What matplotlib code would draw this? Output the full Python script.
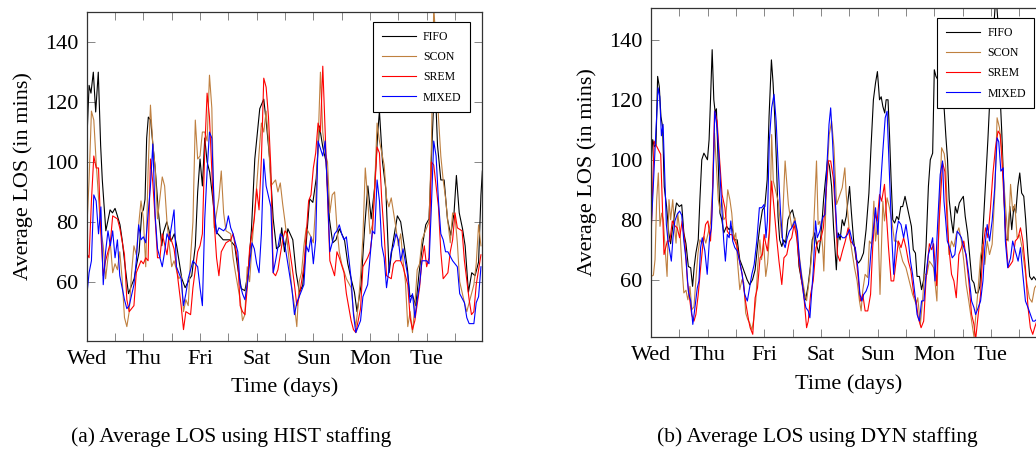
import matplotlib
matplotlib.use("Agg")
import matplotlib.pyplot as plt

plt.rcParams['font.family'] = ['Liberation Serif', 'DejaVu Serif']

# ---------------- (a) HIST staffing ----------------
fifo_a_h = [0, 1.0, 1.8, 2.8, 3.8, 4.9, 5.9, 6.6, 8.1, 9.9,
            10.9, 12, 13, 14.1, 15.1, 16, 16.9, 17.7, 19.1, 20.1,
            21.2, 22.2, 23.3, 24, 24.7, 25.4, 26.1, 27.1, 28, 29,
            30.4, 31.8, 32.5, 33.9, 34.9, 35.7, 37.1, 38.1, 40.3, 41.7,
            43.6, 44.5, 46, 47, 48, 49, 50, 51, 52.1, 53.5,
            54.9, 57.8, 60.6, 62.7, 64.1, 65.5, 67, 68.4, 69.8, 71.2,
            73.3, 75, 76.1, 77.5, 79, 80.4, 81.8, 82.6, 83.8, 85.2,
            87.3, 88.7, 90.1, 91.5, 92.9, 94.4, 95.8, 97.2, 98.6, 100,
            101.4, 102.8, 104.2, 105.6, 107, 109.2, 110.6, 112, 113.4, 114.5,
            116.2, 117.7, 119.1, 120.5, 121.9, 123.3, 124, 125.3, 126.7, 128.1,
            129.5, 131.6, 133, 134.5, 135.9, 136.9, 138, 139.4, 140.8, 142.2,
            143.6, 145, 146.2, 147.2, 147.9, 148.6, 150, 151.4, 152.8, 154.2,
            155.6, 156.6, 157.8, 159.2, 160.3, 161.7, 163.1, 164.5, 166, 167,
            167.6]
fifo_a_v = [106, 125.6, 123, 130, 116.7, 130, 105.5, 94, 77, 84,
            83, 84.5, 82, 79, 73.5, 67, 61, 56, 59, 61,
            66, 70, 83, 84, 87.5, 108, 115, 114, 106, 98,
            83, 72, 76.5, 80, 77, 73.5, 76, 72, 61, 58,
            61, 62, 72, 90, 101, 92, 108, 100, 96.6, 87,
            76.6, 74, 74, 72, 64, 57.7, 57, 63, 77.7, 101,
            117.8, 121, 113, 101, 81, 71, 72, 78, 70, 77.7,
            74, 63, 56.5, 58.7, 72, 87.7, 86.5, 94.4, 112, 105,
            100, 81, 73, 74, 77.7, 74, 66, 61, 56.5, 50,
            58.8, 77.7, 92, 81, 91, 110, 117, 100, 91, 63,
            72, 82, 80, 72, 64, 55, 55.5, 52, 63, 72,
            79, 81, 105, 124, 120, 105.6, 94, 94, 81, 75.5,
            83, 95.5, 83, 77.7, 72, 56.5, 63, 62, 66.6, 89,
            97]

scon_a_h = [0, 1, 2, 3, 4, 5, 6, 7, 8, 9,
            10, 11, 12, 13, 14, 15, 16, 17, 18, 19,
            20, 21, 22, 23, 24, 25, 26, 27, 28, 29,
            30, 31, 32, 33, 34, 35, 36, 37, 39, 40,
            41, 42, 43, 44, 45, 46, 47, 48, 49, 50,
            51, 52, 53, 54, 55, 56, 57, 58, 59, 61,
            62, 63, 65, 66, 67, 68, 69, 70, 72, 73,
            74, 75, 76, 77, 78, 80, 81, 82, 83, 84,
            85, 87, 88, 89, 90, 91, 92, 93, 95, 96,
            97, 98, 99, 100, 101, 102, 103, 104, 105, 106,
            107, 108, 110, 112, 113, 114, 115, 116, 117, 118,
            119, 120, 121, 122, 123, 124, 126, 127, 128, 129,
            130, 131, 132, 133, 134, 135, 136, 137, 138, 139,
            140, 141, 142, 144, 145, 146, 147, 148, 149, 150,
            151, 152, 153, 154, 155, 156, 157, 158, 160, 161,
            163, 164, 165, 166, 167]
scon_a_v = [77, 94, 117, 114, 100, 88, 77, 72, 61, 68,
            73, 63, 66, 64, 70, 61, 48, 45, 50, 63,
            72, 69, 79, 87, 81, 65, 97, 119, 106, 98,
            81, 88, 95, 92, 80, 72, 65, 67, 61, 62,
            50, 54, 52, 68, 80, 114, 101, 102, 110, 110,
            107, 129, 118, 78, 83, 88, 97, 83, 77, 76,
            68, 63, 54, 47, 49, 65, 60, 72, 92, 103,
            113, 110, 117, 107, 92, 94, 90, 93, 86, 80,
            73, 57, 52, 45, 60, 63, 72, 78, 75, 73,
            86, 106, 130, 110, 103, 100, 83, 89, 90, 78,
            70, 66, 61, 58, 50, 45, 52, 62, 75, 98,
            88, 76, 79, 92, 113, 107, 99, 88, 85, 88,
            83, 78, 72, 76, 67, 60, 45, 50, 43, 52,
            64, 66, 74, 78, 80, 105, 152, 139, 115, 102,
            94, 88, 80, 73, 83, 82, 73, 60, 53, 50,
            56, 59, 66, 79, 72]

srem_a_h = [0, 1, 2, 3, 4, 5, 6, 7, 8, 10,
            11, 13, 14, 16, 17, 18, 20, 21, 22, 23,
            24, 25, 26, 27, 28, 29, 30, 31, 32, 34,
            35, 37, 38, 40, 41, 42, 44, 45, 47, 48,
            49, 50, 51, 52, 53, 54, 55, 56, 57, 59,
            61, 62, 64, 65, 66, 67, 68, 69, 71, 72,
            73, 74, 75, 76, 77, 78, 79, 80, 81, 83,
            84, 85, 87, 88, 89, 90, 92, 93, 94, 95,
            96, 97, 98, 99, 100, 101, 102, 103, 105, 106,
            107, 109, 110, 112, 113, 114, 116, 117, 119, 120,
            121, 123, 124, 125, 126, 127, 129, 130, 131, 133,
            134, 136, 137, 138, 139, 141, 142, 143, 144, 145,
            146, 147, 149, 150, 151, 153, 154, 155, 156, 157,
            159, 160, 162, 163, 164, 165, 166, 167]
srem_a_v = [69.5, 68, 87, 102, 98, 98, 76, 62, 67, 73,
            82, 81, 78, 69, 54, 50, 52, 63, 65, 67,
            66, 68, 67, 101, 93, 81, 68, 68, 76, 69,
            76, 71, 65, 52, 44, 50, 49, 58, 70, 72,
            76, 104, 123, 115, 97, 80, 68, 62, 70, 73,
            74, 76, 67, 52, 50, 49, 58, 71, 81, 91,
            84, 101, 128, 125, 115, 98, 63, 62, 64, 74,
            77, 76, 65, 59, 52, 55, 65, 76, 87, 89,
            98, 103, 113, 110, 132, 110, 87, 67, 62, 70,
            68, 63, 56, 47, 44, 43, 51, 65, 68, 70,
            76, 105, 103, 87, 76, 62, 61, 66, 67, 67,
            65, 59, 48, 44, 47, 58, 67, 72, 65, 68,
            100, 99, 85, 70, 61, 63, 70, 74, 83, 78,
            77, 67, 54, 49, 50, 59, 64, 69]

mixed_a_h = [0, 1, 2, 3, 4, 5, 6, 7, 8, 9,
             10, 11, 12, 13, 14, 16, 17, 18, 20, 21,
             22, 23, 24, 25, 27, 28, 29, 30, 32, 33,
             34, 35, 37, 38, 40, 41, 42, 43, 45, 47,
             48, 49, 50, 51, 52, 53, 54, 55, 56, 58,
             59, 60, 61, 62, 64, 65, 66, 67, 68, 69,
             70, 71, 72, 73, 74, 75, 76, 78, 79, 80,
             82, 83, 84, 85, 87, 88, 89, 91, 92, 93,
             94, 95, 96, 97, 98, 100, 101, 102, 103, 105,
             106, 107, 108, 109, 110, 112, 113, 114, 116, 117,
             119, 120, 121, 122, 123, 124, 125, 126, 127, 129,
             130, 131, 132, 133, 134, 136, 137, 138, 139, 140,
             141, 142, 144, 145, 146, 147, 148, 149, 150, 151,
             152, 153, 155, 156, 157, 158, 160, 161, 162, 164,
             165, 166, 167]
mixed_a_v = [55, 63, 67, 89, 87, 76, 85, 59, 70, 77,
             72, 77, 68, 74, 62, 54, 51, 52, 59, 67,
             79, 74, 75, 73, 92, 106, 82, 71, 65, 70,
             76, 74, 84, 65, 61, 52, 56, 61, 67, 65,
             58, 52, 81, 97, 110, 108, 85, 76, 78, 77,
             78, 82, 78, 76, 70, 59, 56, 54, 59, 66,
             73, 71, 66, 63, 76, 101, 92, 85, 63, 67,
             76, 75, 72, 67, 57, 49, 53, 57, 59, 72,
             70, 75, 66, 74, 107, 102, 107, 90, 70, 76,
             77, 79, 76, 74, 75, 61, 49, 43, 47, 55,
             59, 68, 77, 76, 94, 87, 72, 68, 58, 70,
             72, 76, 74, 67, 71, 62, 53, 56, 48, 54,
             59, 67, 67, 66, 85, 107, 102, 87, 76, 74,
             70, 70, 67, 66, 65, 56, 53, 48, 46, 46,
             53, 55, 65]

# ---------------- (b) DYN staffing ----------------
fifo_b_h = [0, 0.7, 1.4, 2.1, 2.8, 3.5, 4.2, 4.9, 5.6, 6.6,
            7.5, 8.3, 9.2, 10.1, 10.8, 12, 13, 13.9, 14.8, 15.8,
            16.8, 17.6, 18.3, 19, 20, 20.7, 21.5, 22.4, 23.2, 23.9,
            24.6, 25.2, 25.9, 26.6, 27.2, 27.7, 28.5, 29.2, 30, 30.8,
            32, 33.1, 34.2, 35.5, 36.5, 37.6, 38.7, 39.7, 40.7, 41.8,
            43, 44.1, 45.1, 46.1, 47.2, 48.2, 49.2, 50, 51, 51.7,
            52.4, 53.1, 53.8, 54.5, 55.4, 56.2, 57, 58, 59, 59.9,
            60.8, 61.8, 62.7, 63.7, 64.6, 65.5, 66.5, 67.5, 68.3, 69.3,
            70.3, 71.1, 72.1, 73.1, 73.9, 74.8, 75.6, 76.5, 77.3, 78.5,
            79.3, 80.1, 81, 81.8, 82.7, 83.5, 84.1, 84.9, 85.8, 86.9,
            87.9, 88.9, 90, 91.1, 92.3, 93.2, 94.2, 95.1, 95.9, 96.8,
            97.5, 98.2, 99, 99.6, 100.4, 101, 101.7, 102.4, 103.2, 104.1,
            104.9, 105.8, 106.6, 107.6, 108.5, 109.4, 110.3, 111.1, 112, 112.7,
            113.7, 114.6, 115.5, 116.5, 117.5, 118.3, 119.3, 120, 120.7, 121.5,
            122.4, 123.2, 124.2, 124.9, 125.6, 126.3, 127.2, 128, 128.9, 129.7,
            130.6, 131.4, 132.3, 133.1, 134.1, 135.1, 135.9, 136.8, 137.6, 138.5,
            139.3, 140.1, 141, 141.8, 142.7, 143.5, 144.4, 145.2, 146.1, 146.9,
            147.7, 148.6, 149.4, 150.3, 151.1, 152, 152.8, 153.7, 154.5, 155.4,
            156.2, 157, 157.9, 158.7, 159.6, 160.4, 161.3, 162.1, 163, 165,
            167.5]
fifo_b_v = [97, 106.7, 104.4, 105, 127.8, 124.4, 114.4, 111, 91, 84.4,
            75.6, 72, 77.8, 82.2, 85.6, 84.4, 85, 75.6, 72, 64.4,
            64, 57.8, 64.4, 68.9, 73.3, 86.7, 100, 102.2, 101, 100,
            106.7, 120, 136.7, 120, 115.6, 117, 97.8, 82.2, 80, 75.6,
            77.8, 76.7, 77.8, 73.3, 73.3, 66.7, 64.4, 62.2, 60, 58.3,
            60, 63.3, 71.1, 77.8, 83.3, 84.4, 93.3, 114.4, 133.3, 125.6,
            114.4, 100, 81.1, 73.3, 71.1, 73.3, 72.2, 80, 82.2, 83.3,
            80, 75.6, 64.4, 60, 56.7, 53.3, 57.8, 64.4, 73.3, 75.6,
            71.1, 68.9, 75.6, 86.7, 93.3, 100, 97.8, 91.1, 77.8, 63.3,
            75.6, 73.3, 80, 78, 81.1, 86.7, 91.1, 82.2, 73.3, 66.7,
            65.6, 66.7, 68.9, 76.7, 88.9, 104.4, 120, 125.6, 129.4, 120,
            121, 117.8, 115.6, 120, 120, 108.9, 93.3, 80, 78.9, 81.1,
            80, 84.4, 84.4, 87.8, 84.4, 81.1, 77.8, 70, 68.9, 61.1,
            61.1, 56.7, 60, 71.1, 91.1, 100, 102.2, 130, 127.8, 126.7,
            121.1, 120, 116.7, 107.8, 100, 86.7, 80, 75.6, 84.4, 82.2,
            85.6, 86.7, 87.8, 81.1, 75.6, 66.7, 60, 58.9, 55.6, 55.6,
            57.8, 68.9, 82.2, 94.4, 106.7, 120, 131.1, 144.4, 155, 146.7,
            124.4, 108.9, 91.1, 73.3, 73.3, 84.4, 76.7, 84.4, 82.2, 91.1,
            95.6, 88.9, 87.8, 80, 68.9, 61.1, 60, 61, 60, 58,
            62]

scon_b_h = [0, 1.0, 1.7, 2.4, 3.1, 3.8, 4.5, 5.2, 6.1, 6.8,
            7.6, 8.3, 9.2, 9.9, 10.6, 11.3, 12.3, 13.1, 13.9, 14.8,
            15.6, 16.5, 17.3, 18.2, 19, 19.9, 20.7, 21.5, 22.4, 23.2,
            24.2, 25.2, 26.1, 26.9, 27.7, 28.5, 29.2, 30, 30.8, 31.7,
            32.5, 33.4, 34.2, 35.1, 35.9, 36.8, 37.6, 38.5, 39.3, 40.1,
            41, 41.8, 42.7, 43.5, 44.4, 45.2, 46.1, 46.8, 47.7, 48.6,
            49.4, 50.3, 51.1, 51.8, 53.9, 55.4, 56.8, 58.2, 59.6, 61,
            62.4, 63.8, 65.2, 65.9, 67.3, 68.7, 70.1, 70.8, 71.5, 72.7,
            73.2, 74.4, 75.5, 76.5, 77.5, 78.6, 80, 81, 82.1, 82.7,
            83.4, 84.1, 85.1, 86.2, 87.3, 88.3, 89, 89.7, 90.7, 91.8,
            92.5, 93.5, 94.4, 95.1, 96.1, 97, 98.2, 98.9, 100, 101,
            102, 103.1, 104.2, 105.2, 106.6, 108, 109.4, 110.8, 112.3, 113,
            114.1, 115.1, 115.8, 116.9, 117.9, 118.9, 119.7, 121.1, 122.1, 123.1,
            124.2, 124.8, 125.5, 126.2, 127.3, 128.3, 129.3, 130.4, 131.5, 132.5,
            133.5, 134.6, 135.8, 136.8, 137.5, 138.6, 139.6, 140.6, 141.4, 142.4,
            143.4, 144.5, 145.6, 146.6, 147.6, 148.5, 149.4, 150.4, 151.3, 152.3,
            153.2, 154.1, 155.1, 156.1, 157.2, 158.3, 159.3, 160.3, 161.4, 162.5,
            165, 167.5]
scon_b_v = [61.1, 61.5, 66.7, 86.7, 95.6, 77.8, 82.2, 80, 68.9, 61.1,
            86.7, 80, 86.7, 78, 72.2, 82.2, 75.6, 64.4, 55.6, 56.5,
            53.3, 57.8, 50, 51, 60, 68.9, 73.3, 72.2, 74.4, 72.2,
            75.6, 78.9, 91.1, 108.9, 97.8, 86.7, 83.3, 86.7, 80, 81,
            90, 86.7, 82.2, 73.3, 75.6, 64.4, 56.7, 60, 59, 48.9,
            46.7, 45.6, 43.3, 46.7, 53.3, 64.4, 73.3, 66.7, 72.2, 61.1,
            65.6, 76.7, 108.4, 92.9, 86, 74, 99.6, 85.1, 77.3, 80.6,
            70.7, 61.8, 55.1, 53, 61.8, 74, 99.6, 78.4, 79.5, 71,
            62.9, 92.9, 108.4, 112.9, 104, 85.1, 88.4, 90.7, 97.3, 88.4,
            81.8, 75.1, 69.6, 64, 59.6, 52.9, 49.6, 56.5, 61.8, 60.7,
            72.9, 71.8, 86.2, 72.9, 79.6, 55.1, 86.2, 79.6, 87.3, 84,
            79.6, 72.9, 72.9, 70.7, 66.2, 64, 59.6, 55.1, 51.8, 54,
            45.1, 53.8, 61.8, 61.8, 66.2, 65.1, 64, 52.9, 84, 104,
            102, 98, 84, 68.4, 72.9, 71, 75.1, 77.3, 72.9, 66.2,
            58.4, 52.9, 46.2, 41, 47.5, 57.3, 68, 71.8, 65.1, 72.9,
            68.4, 71.8, 88.4, 114, 110.7, 104, 92.9, 82, 72.9, 91.8,
            82.9, 85.1, 74, 75, 70.7, 64, 58.4, 53.8, 52.5, 57.3,
            60, 62]

srem_b_h = [0, 1.3, 2.7, 4.1, 4.8, 5.5, 6.9, 8, 9, 10.1,
            11.1, 12.1, 13.2, 14.4, 15.4, 16.3, 17.2, 18.2, 19, 20,
            21, 22, 23.1, 24.1, 25.2, 25.9, 26.9, 28, 29, 30.1,
            31.3, 32.3, 33.2, 34.4, 35.5, 36.5, 37.5, 38.6, 40, 41.4,
            42, 43.1, 44.1, 45.1, 46.2, 47.2, 47.9, 48.6, 49.3, 50.1,
            51.1, 52.1, 53.2, 54.2, 55.4, 56.3, 57.5, 58.6, 59.6, 60.6,
            61.7, 62.8, 63.8, 64.8, 65.9, 66.6, 67.6, 68.7, 69.9, 70.8,
            71.8, 73, 74.1, 75.1, 76.1, 77.2, 78.2, 79, 80, 81.1,
            82.3, 83.5, 84.5, 85.5, 86.5, 87.6, 88.7, 89.7, 90.7, 91.8,
            93, 93.9, 94.9, 95.8, 96.8, 97.7, 98.9, 99.6, 100.6, 101.7,
            102.8, 103.8, 104.8, 105.9, 107, 108, 109, 110.1, 111.3, 112.3,
            113.2, 114.4, 115.5, 116.5, 117.9, 118.9, 119.7, 121, 122.1, 123.5,
            124.5, 125.5, 126.2, 127.3, 128.3, 129.3, 130.4, 131.5, 132.5, 133.5,
            134.6, 135.8, 136.8, 137.5, 138.6, 139.6, 140.6, 141.7, 142.7, 143.8,
            144.8, 145.9, 147, 147.9, 148.6, 149.4, 150.4, 151.3, 152.3, 153.2,
            154.3, 155.5, 156.5, 157.5, 158.6, 159.7, 160.7, 161.7, 162.5, 165,
            167.5]
srem_b_v = [72.9, 106.2, 104, 101.8, 85, 68.4, 72.9, 72.9, 79.6, 78,
            77.3, 74, 79.6, 71.8, 59.6, 54, 48.4, 46.2, 48.4, 55.1,
            64, 72, 78.4, 79.6, 72.9, 84, 116.2, 112.9, 100.7, 88.4,
            84, 76.2, 75.1, 75, 72.9, 71, 66.2, 61.8, 52.9, 46.2,
            44, 41.8, 54, 57.3, 67.3, 68.4, 75.1, 72, 69.6, 76.2,
            92.9, 84, 74, 66.2, 58.4, 67.3, 68.4, 72.8, 74, 78.4,
            74, 65.1, 59.6, 54, 44, 46.2, 55.1, 59.6, 70.7, 72.9,
            73, 77.3, 88.4, 99.6, 99.6, 94, 81.8, 68.4, 66.2, 69.6,
            72.9, 77.3, 72.8, 72, 70.7, 61.8, 52.9, 55.1, 49.6, 49.6,
            55.1, 70.7, 81.8, 79.6, 88.4, 86.2, 91.8, 82.9, 70.7, 59.6,
            59.6, 66.2, 72.9, 70.7, 74, 70.7, 66.2, 62.9, 55.1, 52.9,
            47.3, 44, 46.2, 60, 72, 70, 72, 58, 80, 99,
            96, 78.4, 70.7, 61.8, 59.6, 54, 68.4, 70.7, 72.9, 67.3,
            59.6, 48.4, 45.1, 40, 48.4, 55.1, 70.7, 77.3, 74, 84,
            95.1, 104, 109.6, 108.4, 100.7, 88.4, 72.9, 64, 65.1, 66.2,
            72.9, 74, 77.3, 72.9, 64, 50.7, 44, 41.8, 44, 50,
            55]

mixed_b_h = [0, 0.8, 2, 3, 3.7, 4.4, 5.1, 5.8, 6.5, 7.2,
             7.9, 8.6, 9.3, 10.1, 11.1, 12.1, 13, 13.9, 14.9, 15.8,
             16.8, 17.7, 18.6, 19.6, 20.3, 21, 21.7, 22.8, 23.8, 24.8,
             25.6, 26.3, 27, 28, 29, 29.9, 30.8, 31.5, 32.3, 33.1,
             33.8, 34.6, 35.5, 36.5, 37.5, 38.6, 39.7, 40.8, 42.7, 43.7,
             44.8, 45.9, 46.9, 47.9, 48.7, 49.3, 50.1, 51.1, 52.1, 53,
             53.9, 54.9, 55.8, 56.8, 57.7, 58.6, 59.6, 61, 62, 62.8,
             63.8, 64.8, 65.6, 66.6, 67.3, 68, 68.7, 69.7, 70.4, 71.5,
             72.7, 73.7, 74.4, 75.4, 76.1, 76.9, 77.9, 78.9, 80, 81.1,
             82.1, 83.2, 84.1, 85.5, 86.5, 87.6, 88.5, 89.3, 90.1, 91.1,
             92.1, 93.2, 94.4, 95.1, 96.1, 97, 98.2, 99.2, 100, 101,
             102, 102.8, 103.8, 104.8, 105.9, 107, 108, 109, 109.9, 110.8,
             111.8, 112.7, 113.7, 114.6, 115.6, 116.5, 117.5, 118.3, 119.3, 120.3,
             121.4, 122.5, 123.5, 124.1, 124.8, 125.5, 126.5, 127.6, 128.7, 129.7,
             130.7, 131.5, 132.5, 133.5, 134.6, 135.8, 136.8, 137.5, 138.6, 139.6,
             140.6, 141.4, 142.4, 143.4, 144.5, 145.6, 146.6, 147.3, 148.2, 149.2,
             150.1, 151.1, 152.3, 153.2, 154.3, 155.5, 156.5, 157.5, 158.6, 159.7,
             160.7, 161.7, 162.5, 165, 167.5]
mixed_b_v = [76.2, 88.4, 108.4, 124, 121, 108, 111.8, 95, 78.4, 72.9,
             69.6, 66.2, 74, 79.6, 81.8, 82.9, 81.5, 72.9, 66.2, 56.2,
             52.9, 45.1, 50.7, 57.3, 59.6, 70.7, 74, 69.6, 61.8, 74,
             77.3, 92.9, 116.2, 110.7, 98.4, 85.1, 72.9, 66.2, 75.1, 74,
             79.6, 72.9, 70.7, 69.6, 66.2, 61.8, 55.1, 52.9, 61.8, 65.1,
             72.9, 84, 84, 85.1, 74, 79.6, 106.2, 117.3, 121.8, 112.9,
             97.3, 81.8, 72.9, 70.7, 74, 76.2, 77.3, 79.6, 76.2, 67.3,
             60.7, 54, 50.7, 49.6, 47.3, 55.1, 62.9, 79.6, 74, 76.2,
             80.7, 81.8, 96.2, 111.8, 117.3, 106.2, 88.4, 74, 75.1, 74,
             74, 75.1, 76.7, 72, 70.7, 64, 55.1, 52.9, 55.1, 56.2,
             58.4, 69.6, 78.4, 84, 75.1, 88.4, 102.9, 114, 116.2, 95.1,
             74, 61.8, 75.1, 79.6, 78.4, 74, 78.4, 72.9, 66.2, 61.8,
             55.1, 48.4, 46.2, 52.9, 53, 61.8, 68.4, 70.7, 74, 59.6,
             78.4, 95.1, 99.6, 86.2, 80, 72.9, 70.7, 67.3, 68.4, 76.2,
             75.1, 74, 70.7, 68.4, 61.8, 52.9, 50.7, 48.4, 50.7, 52.9,
             59.6, 70.7, 78.4, 72.9, 79.6, 90.7, 107.3, 106, 96.2, 97.3,
             72.9, 64, 67.3, 72.9, 69.6, 66.2, 70.7, 61.8, 52.9, 50.7,
             48.4, 46.2, 46.2, 48, 52]

policies = ['FIFO', 'SCON', 'SREM', 'MIXED']
colors = ['black', '#bf8040', 'red', 'blue']
day_labels = ['Wed', 'Thu', 'Fri', 'Sat', 'Sun', 'Mon', 'Tue']
y_ticks = [60, 80, 100, 120, 140]


def draw_panel(ax, series, ylim):
    for (h, v), name, c in zip(series, policies, colors):
        ax.plot(h, v, color=c, lw=0.8, label=name)
    ax.set_xlim(0, 167.6)
    ax.set_ylim(*ylim)
    ax.set_xticks(range(0, 168, 24))
    ax.set_xticklabels(day_labels)
    ax.set_xticks(range(12, 168, 24), minor=True)
    ax.set_yticks(y_ticks)
    ax.tick_params(which='both', direction='in', top=True, right=True,
                   length=6, width=0.6, color='0.45', labelsize=16)
    ax.tick_params(axis='x', pad=7)
    ax.tick_params(axis='y', pad=6)
    for sp in ax.spines.values():
        sp.set_linewidth(0.9)
        sp.set_color('0.2')
    ax.set_xlabel('Time (days)', fontsize=16, labelpad=6)
    ax.set_ylabel('Average LOS (in mins)', fontsize=16, labelpad=9)
    leg = ax.legend(loc='upper right', bbox_to_anchor=(0.969, 0.9695),
                    borderaxespad=0, fontsize=8.5, fancybox=False,
                    edgecolor='black', framealpha=1, handlelength=2.9,
                    handletextpad=0.6, labelspacing=0.7, borderpad=0.72)
    leg.get_frame().set_linewidth(0.8)


fig = plt.figure(figsize=(10.36, 4.51), dpi=100)
ax1 = fig.add_axes([0.0837, 0.2446, 0.3819, 0.7281])
ax2 = fig.add_axes([0.6284, 0.2534, 0.3819, 0.7282])

draw_panel(ax1, [(fifo_a_h, fifo_a_v), (scon_a_h, scon_a_v),
                 (srem_a_h, srem_a_v), (mixed_a_h, mixed_a_v)], (40.3, 150))
draw_panel(ax2, [(fifo_b_h, fifo_b_v), (scon_b_h, scon_b_v),
                 (srem_b_h, srem_b_v), (mixed_b_h, mixed_b_v)], (41, 150.5))

fig.text(231 / 1036, 1 - 437 / 451, '(a) Average LOS using HIST staffing',
         ha='center', va='center', fontsize=15.5)
fig.text(817 / 1036, 1 - 437 / 451, '(b) Average LOS using DYN staffing',
         ha='center', va='center', fontsize=15.5)

fig.savefig('out.png', dpi=100)
